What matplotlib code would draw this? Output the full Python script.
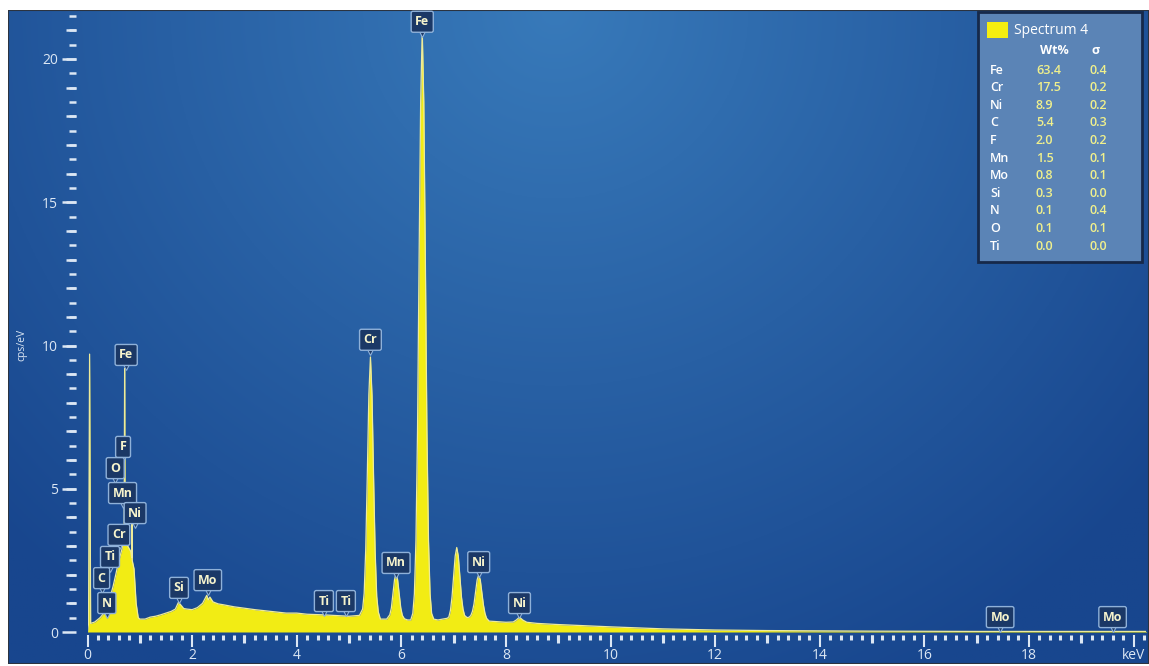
import numpy as np
import matplotlib.pyplot as plt
from matplotlib import transforms
from matplotlib.patches import Rectangle

plt.rcParams['font.family'] = ['Open Sans', 'DejaVu Sans']

# spectrum: energy (keV) and counts (cps/eV)
kev = [0.00, 0.02, 0.04, 0.06, 0.14, 0.24, 0.33, 0.43, 0.49, 0.54, 0.60, 0.66,
       0.70, 0.71, 0.72, 0.77, 0.83, 0.845, 0.85, 0.855, 0.89, 0.93, 0.97, 1.00,
       1.10, 1.20, 1.30, 1.40, 1.50, 1.60, 1.68, 1.74, 1.78, 1.84, 1.90, 2.00,
       2.10, 2.20, 2.28, 2.31, 2.34, 2.40, 2.50, 2.60, 2.80, 3.00, 3.20, 3.40,
       3.60, 3.80, 4.00, 4.20, 4.50, 4.80, 5.00,
       5.20, 5.26, 5.29, 5.32, 5.35, 5.38, 5.41, 5.44, 5.47, 5.50, 5.53, 5.56, 5.60, 5.65,
       5.72, 5.78, 5.81, 5.84, 5.87, 5.90, 5.93, 5.96, 5.99, 6.02, 6.06, 6.12,
       6.18, 6.22, 6.25, 6.28, 6.31, 6.34, 6.37, 6.40, 6.43, 6.46, 6.49, 6.52, 6.55, 6.58, 6.62,
       6.70, 6.88, 6.91, 6.94, 6.97, 7.00, 7.03, 7.06, 7.09, 7.12, 7.15, 7.18, 7.21, 7.26,
       7.30, 7.33, 7.36, 7.39, 7.42, 7.45, 7.48, 7.51, 7.54, 7.57, 7.60, 7.63, 7.68,
       8.00, 8.14, 8.20, 8.26, 8.32, 8.40, 8.60, 9.00, 9.50, 10.0, 11.0, 12.0,
       13.0, 14.0, 15.0, 17.0, 20.3]
cps = [0.00, 0.30, 9.70, 0.30, 0.35, 0.50, 0.70, 1.20, 1.60, 2.00, 2.50, 2.90,
       3.40, 9.20, 3.30, 3.00, 2.80, 2.60, 3.90, 2.50, 2.20, 1.00, 0.50, 0.45,
       0.45, 0.52, 0.55, 0.60, 0.66, 0.72, 0.80, 1.04, 0.95, 0.82, 0.80, 0.78,
       0.85, 1.00, 1.28, 1.12, 1.22, 1.05, 0.98, 0.95, 0.88, 0.83, 0.78, 0.74,
       0.70, 0.66, 0.66, 0.62, 0.60, 0.57, 0.55,
       0.58, 0.80, 1.35, 2.90, 5.50, 8.30, 9.60, 8.25, 5.40, 2.80, 1.25, 0.70, 0.45, 0.45,
       0.45, 0.60, 0.84, 1.32, 1.82, 2.05, 1.82, 1.32, 0.84, 0.58, 0.46, 0.42,
       0.42, 0.65, 1.33, 3.20, 7.00, 13.0, 18.5, 21.0, 18.5, 13.0, 7.00, 3.20, 1.33, 0.65, 0.45,
       0.42, 0.48, 0.53, 0.76, 1.23, 1.96, 2.65, 2.95, 2.65, 1.96, 1.23, 0.80, 0.58, 0.50,
       0.52, 0.58, 0.72, 0.98, 1.40, 1.82, 2.00, 1.82, 1.38, 0.95, 0.65, 0.48, 0.38,
       0.34, 0.35, 0.42, 0.52, 0.42, 0.34, 0.30, 0.26, 0.22, 0.18, 0.11, 0.07,
       0.05, 0.04, 0.03, 0.02, 0.02]

# peak labels
peak_names = ['Fe', 'Cr', 'Mn', 'Ni', 'Ni', 'Ti', 'Ti', 'Si', 'Mo', 'Mo', 'Mo',
              'Fe', 'F', 'O', 'Mn', 'Ni', 'Cr', 'Ti', 'C', 'N']
peak_x = [6.40, 5.41, 5.90, 7.48, 8.26, 4.52, 4.94, 1.75, 2.30, 17.45, 19.6,
          0.74, 0.68, 0.53, 0.67, 0.91, 0.60, 0.43, 0.27, 0.37]
peak_y = [21.3, 10.2, 2.41, 2.44, 1.01, 1.08, 1.08, 1.54, 1.81, 0.52, 0.52,
          9.67, 6.46, 5.72, 4.85, 4.15, 3.39, 2.62, 1.88, 1.01]

# quantification table
elements = ['Fe', 'Cr', 'Ni', 'C', 'F', 'Mn', 'Mo', 'Si', 'N', 'O', 'Ti']
wt_pct = [63.4, 17.5, 8.9, 5.4, 2.0, 1.5, 0.8, 0.3, 0.1, 0.1, 0.0]
wt_sigma = [0.4, 0.2, 0.2, 0.3, 0.2, 0.1, 0.1, 0.0, 0.4, 0.1, 0.0]

W, H = 1149, 666
fig = plt.figure(figsize=(W / 100, H / 100), dpi=100)
fig.patch.set_facecolor('white')


def px(x0, y0, x1, y1):
    return [x0 / W, 1 - y1 / H, (x1 - x0) / W, (y1 - y0) / H]


# blue radial background
bg = fig.add_axes(px(8, 10, 1149, 664))
gy, gx = np.mgrid[0:1:300j, 0:1:500j]
d = np.sqrt(((gx - 0.48) * 1.7) ** 2 + (gy - 0.0) ** 2)
t = np.clip(d / 1.15, 0, 1)[..., None]
inner = np.array([56, 122, 186]) / 255
outer = np.array([24, 70, 142]) / 255
bg.imshow(inner * (1 - t) + outer * t, extent=[0, 1, 0, 1], aspect='auto')
bg.add_patch(Rectangle((0, 0), 1, 1, transform=bg.transAxes, fill=False,
                       ec='#2b3340', lw=1.5))
bg.axis('off')

lc = '#dce7f4'
x_max = (1146 - 87.5) / 52.3
y_max = (632 - 10) / 28.65
rect = px(87.5, 10, 1146, 632)


def style_axes(a):
    a.set_facecolor('none')
    a.set_xlim(0, x_max)
    a.set_ylim(0, y_max)
    for s in ['top', 'right']:
        a.spines[s].set_visible(False)
    a.spines['left'].set_color('none')
    a.spines['bottom'].set_color('none')
    a.spines['left'].set_position(('outward', 8.3))
    a.spines['bottom'].set_position(('outward', 2.2))


# medium ticks at odd keV and whole cps (drawn behind the main axes)
ax2 = fig.add_axes(rect)
style_axes(ax2)
ax2.set_xticks(np.arange(1, 20, 2))
ax2.set_yticks(np.arange(1, 21.6, 1))
ax2.tick_params(axis='x', length=6, width=2.2, color=lc, labelbottom=False)
ax2.tick_params(axis='y', length=7, width=1.8, color=lc, labelleft=False)

# spectrum
ax = fig.add_axes(rect)
style_axes(ax)
ax.fill_between(kev, cps, 0, color='#f2ec14', lw=0, zorder=2)
ax.plot(kev, cps, color='#eeeb9a', lw=0.9, zorder=3)

ax.set_yticks([0, 5, 10, 15, 20])
ax.set_yticks(np.arange(0, 21.6, 0.5), minor=True)
ax.set_xticks(np.arange(0, 21, 2))
ax.set_xticklabels([str(v) for v in range(0, 19, 2)] + ['keV'])
ax.set_xticks(np.arange(0, x_max, 0.2), minor=True)
ax.tick_params(axis='y', which='major', length=10, width=1.8, color=lc,
               labelcolor=lc, labelsize=10, pad=3)
ax.tick_params(axis='y', which='minor', length=5, width=1.8, color=lc)
ax.tick_params(axis='x', which='major', length=8.5, width=1.5, color=lc,
               labelcolor=lc, labelsize=10, pad=1)
ax.tick_params(axis='x', which='minor', length=3.5, width=2.2, color=lc)

fig.text(22 / W, 1 - 345 / H, 'cps/eV', rotation=90, fontsize=7.5, color=lc,
         ha='center', va='center')

# peak labels
box_fc = '#1b3866'
box_ec = '#8fb1d9'
tr = transforms.offset_copy(ax.transData, fig=fig, y=-11, units='dots')
ax.plot(peak_x, peak_y, 'v', ls='none', ms=6, mfc=box_fc, mec=box_ec, mew=0.8,
        transform=tr, zorder=4, clip_on=False)
for name, x, y in zip(peak_names, peak_x, peak_y):
    ax.text(x, y, name, ha='center', va='center', fontsize=9, fontweight='bold',
            color='#f6f3cc', zorder=5, clip_on=False,
            bbox=dict(boxstyle='round,pad=0.32,rounding_size=0.15', fc=box_fc,
                      ec=box_ec, lw=1))

# legend / quant table
fig.add_artist(Rectangle((978 / W, 1 - 262 / H), 164 / W, 250 / H,
                         transform=fig.transFigure, fc='#5b84b6', ec='#16294a', lw=2))
fig.add_artist(Rectangle((987 / W, 1 - 38 / H), 21 / W, 16 / H,
                         transform=fig.transFigure, fc='#f4ee10', ec='none'))
fig.text(1014 / W, 1 - 31 / H, 'Spectrum 4', fontsize=10, color='white',
         ha='left', va='center')
fig.text(1040 / W, 1 - 51 / H, 'Wt%', fontsize=9, color='white',
         fontweight='bold', ha='left', va='center')
fig.text(1091 / W, 1 - 51 / H, 'σ', fontsize=9, color='white',
         fontweight='bold', ha='left', va='center')
for i, (el, w, s) in enumerate(zip(elements, wt_pct, wt_sigma)):
    yy = 1 - (70 + i * 17.6) / H
    fig.text(990 / W, yy, el, fontsize=9, color='white', ha='left',
             va='center', fontweight='semibold')
    fig.text(1036 / W, yy, '%.1f' % w, fontsize=9, color='#f0f08c',
             ha='left', va='center', fontweight='semibold')
    fig.text(1090 / W, yy, '%.1f' % s, fontsize=9, color='#f0f08c',
             ha='left', va='center', fontweight='semibold')

fig.savefig('out.png', dpi=100)
